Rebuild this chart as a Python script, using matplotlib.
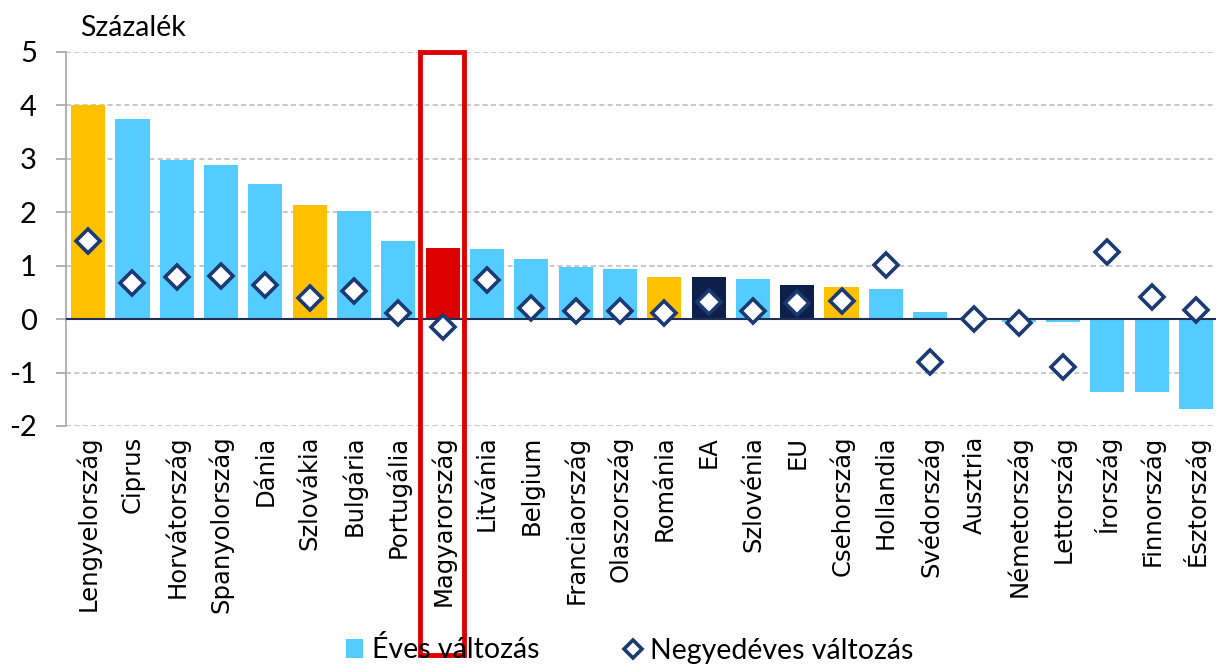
import numpy as np
import matplotlib.pyplot as plt
import matplotlib.patches as patches
from matplotlib.lines import Line2D

plt.rcParams["axes.unicode_minus"] = False

countries = ["Lengyelország", "Ciprus", "Horvátország", "Spanyolország", "Dánia",
             "Szlovákia", "Bulgária", "Portugália", "Magyarország", "Litvánia",
             "Belgium", "Franciaország", "Olaszország", "Románia", "EA",
             "Szlovénia", "EU", "Csehország", "Hollandia", "Svédország",
             "Ausztria", "Németország", "Lettország", "Írország", "Finnország",
             "Észtország"]
eves = [4.00, 3.75, 2.98, 2.88, 2.53, 2.13, 2.02, 1.46, 1.33, 1.31,
        1.12, 0.97, 0.94, 0.79, 0.79, 0.75, 0.64, 0.60, 0.56, 0.13,
        0.01, -0.05, -0.05, -1.36, -1.37, -1.69]
negyedeves = [1.47, 0.68, 0.79, 0.81, 0.63, 0.40, 0.53, 0.11, -0.15, 0.74,
              0.21, 0.16, 0.16, 0.11, 0.32, 0.15, 0.30, 0.34, 1.01, -0.80,
              0.00, -0.08, -0.89, 1.25, 0.42, 0.17]
# bar colour groups
v4 = ["Lengyelország", "Szlovákia", "Románia", "Csehország"]
aggregates = ["EA", "EU"]
hu = "Magyarország"

c_blue = "#55CCFF"
c_orange = "#FFC000"
c_red = "#DD0000"
c_navy = "#0C2049"
c_marker = "#1B3A73"

colors = []
for c in countries:
    if c == hu:
        colors.append(c_red)
    elif c in v4:
        colors.append(c_orange)
    elif c in aggregates:
        colors.append(c_navy)
    else:
        colors.append(c_blue)

fig = plt.figure(figsize=(12.16, 6.66), dpi=100)
ax = fig.add_axes([66/1216, 1-426/666, 1-66/1216, (426-52)/666])

x = np.arange(len(countries))
ax.bar(x, eves, width=0.77, color=colors, zorder=2)
ax.plot(x, negyedeves, linestyle="none", marker="D", markersize=12,
        markerfacecolor="white", markeredgecolor=c_marker, markeredgewidth=2.6, zorder=4)

ax.axhline(0, color="#1F2F55", linewidth=1.5, zorder=3)
ax.set_ylim(-2, 5)
ax.set_xlim(-0.5, 25.45)
ax.set_yticks(range(-2, 6))
ax.yaxis.grid(True, linestyle=(0, (3, 2)), color="#BFBFBF", linewidth=1.2, zorder=0)
ax.set_axisbelow(True)

for s in ["top", "right", "bottom"]:
    ax.spines[s].set_visible(False)
ax.spines["left"].set_color("#A6A6A6")
ax.spines["left"].set_linewidth(1.2)
ax.tick_params(axis="y", direction="out", length=7, color="#A6A6A6", width=1.2,
               labelsize=21, pad=14)
ax.tick_params(axis="x", length=0, pad=7)
ax.set_xticks(x)
ax.set_xticklabels(countries, rotation=90, fontsize=17.5, family="DejaVu Sans")
for lab in ax.get_yticklabels():
    lab.set_family("Lato")

fig.text(80/1216, 1-28/666, "Százalék", fontsize=20.5, family="Lato", va="center", ha="left")

# highlight box around Magyarország
idx = countries.index(hu)
rect = patches.Rectangle((idx - 0.52, -6.28), 0.99, 11.28, fill=False,
                         edgecolor=c_red, linewidth=3.5, clip_on=False, zorder=5)
ax.add_patch(rect)

handles = [patches.Patch(facecolor=c_blue, edgecolor="none"),
           Line2D([], [], linestyle="none", marker="D", markersize=9,
                  markerfacecolor="white", markeredgecolor=c_marker, markeredgewidth=2.6)]
fig.legend(handles, ["Éves változás", "Negyedéves változás"], loc="center",
           bbox_to_anchor=(630/1216, 1-650/666), ncol=2, frameon=False,
           prop={"family": "Lato", "size": 20.5}, handlelength=0.6, handleheight=0.6,
           handletextpad=0.3, columnspacing=3.0)

fig.savefig("out.png", dpi=100)
